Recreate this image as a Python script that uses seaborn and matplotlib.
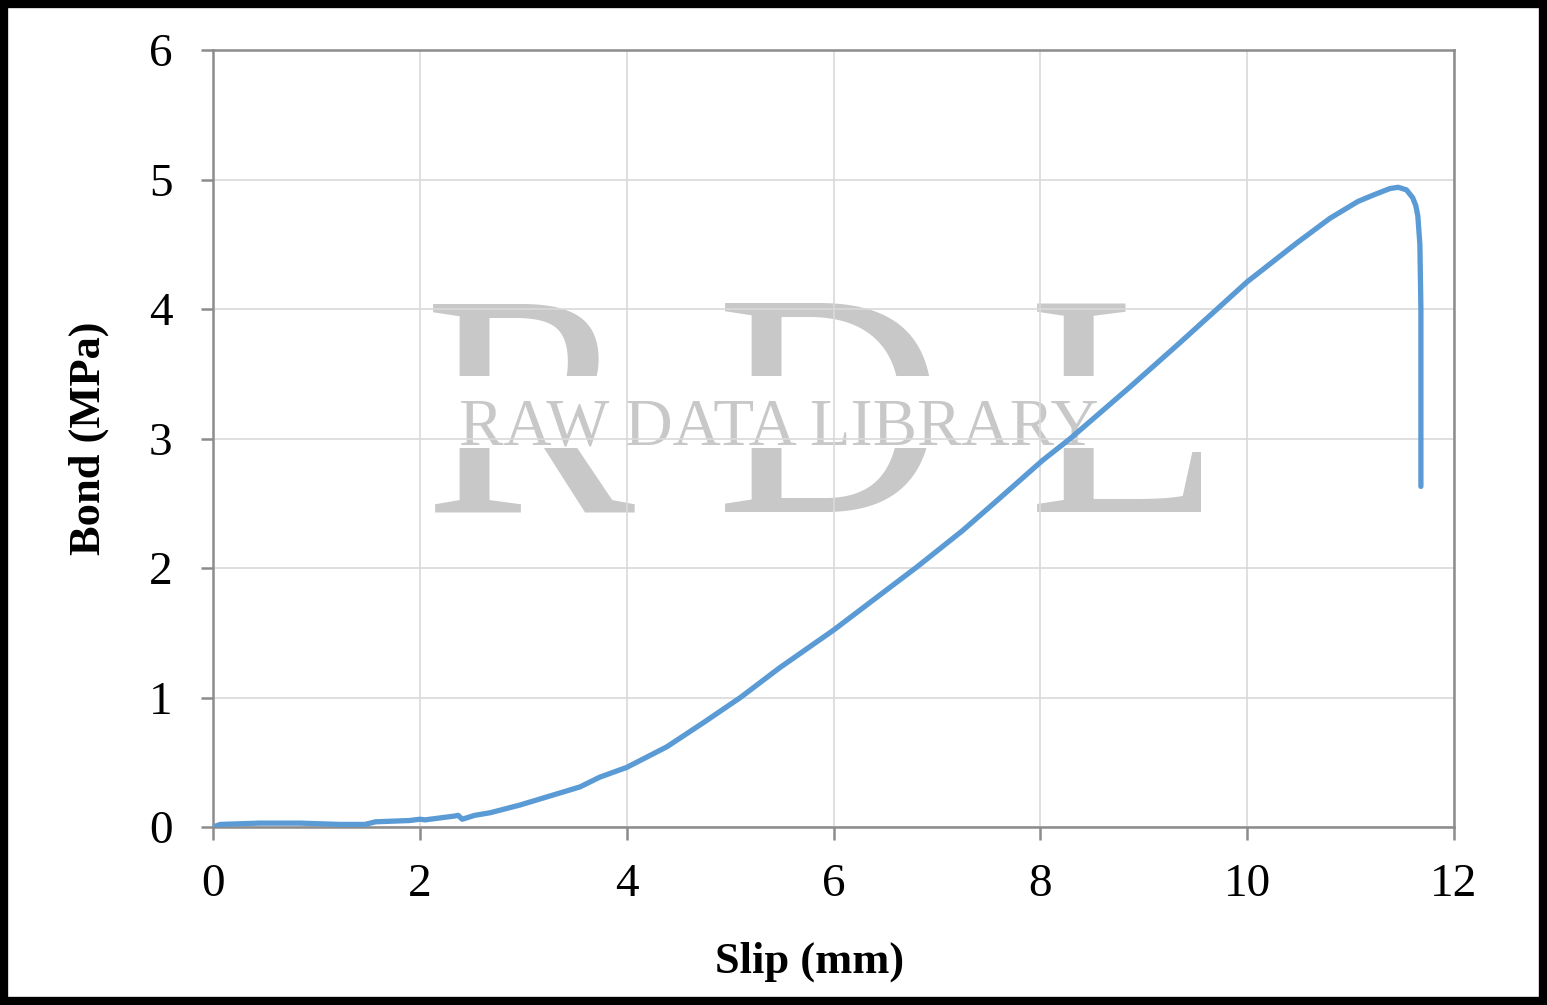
import numpy as np
import pandas as pd
import matplotlib.pyplot as plt
import seaborn as sns
from matplotlib.patches import Rectangle

# Bond-slip curve
slip = [0.0, 0.07, 0.45, 0.84, 1.23, 1.47, 1.57, 1.90, 2.00, 2.05, 2.34, 2.37, 2.41,
        2.53, 2.68, 2.97, 3.55, 3.74, 4.00, 4.39, 4.75, 5.10, 5.48, 6.00, 6.38,
        6.81, 7.25, 7.58, 8.02, 8.29, 8.87, 9.35, 9.71, 10.00, 10.48, 10.80,
        11.07, 11.22, 11.38, 11.46, 11.54, 11.60, 11.63, 11.65, 11.67, 11.68,
        11.68, 11.68]
bond = [0.0, 0.02, 0.03, 0.03, 0.02, 0.02, 0.04, 0.05, 0.06, 0.055, 0.085, 0.09, 0.06,
        0.09, 0.11, 0.17, 0.31, 0.385, 0.46, 0.62, 0.81, 1.00, 1.23, 1.52, 1.75,
        2.01, 2.29, 2.52, 2.83, 3.00, 3.40, 3.74, 4.00, 4.21, 4.51, 4.70,
        4.83, 4.88, 4.93, 4.94, 4.92, 4.86, 4.80, 4.72, 4.50, 4.00,
        3.30, 2.63]

x_ticks = [0, 2, 4, 6, 8, 10, 12]
y_ticks = [0, 1, 2, 3, 4, 5, 6]

df = pd.DataFrame({"Slip (mm)": slip, "Bond (MPa)": bond})

sns.set_style("white")
plt.rcParams['font.family'] = ['Liberation Serif', 'DejaVu Serif']

W, H = 1547, 1005
fig = plt.figure(figsize=(W / 100, H / 100), dpi=100)
ax = fig.add_axes([213 / W, 1 - 827 / H, (1454 - 213) / W, (827 - 50) / H])

# watermark (below the grid)
wm = '#c8c8c8'
for letter, px in [("R", 424), ("D", 716), ("L", 1028)]:
    ax.text(px / W, 1 - 512 / H, letter, transform=fig.transFigure, fontsize=228,
            color=wm, ha='left', va='baseline', zorder=0.1, clip_on=False)
ax.add_patch(Rectangle((425 / W, 1 - 448 / H), (1220 - 425) / W, 72 / H,
                       transform=fig.transFigure, facecolor='white', edgecolor='none',
                       zorder=0.2, clip_on=False))
ax.text(459 / W, 1 - 444 / H, "RAW DATA LIBRARY", transform=fig.transFigure,
        fontsize=48, color=wm, ha='left', va='baseline', zorder=0.3, clip_on=False)

sns.lineplot(data=df, x="Slip (mm)", y="Bond (MPa)", sort=False, estimator=None,
             color='#5b9bd5', linewidth=3.8, ax=ax, zorder=3,
             solid_joinstyle='round', solid_capstyle='round')

ax.set_xlim(0, 12)
ax.set_ylim(0, 6)
ax.set_xticks(x_ticks)
ax.set_yticks(y_ticks)
ax.grid(True, color='#d9d9d9', linewidth=1.2)
ax.set_axisbelow(True)
for side in ['left', 'bottom', 'top', 'right']:
    ax.spines[side].set_color('#8c8c8c')
    ax.spines[side].set_linewidth(1.8)
ax.tick_params(axis='both', direction='out', length=9, width=1.8, color='#8c8c8c',
               labelsize=34, labelcolor='black', bottom=True, left=True)
ax.tick_params(axis='x', pad=17)
ax.tick_params(axis='y', pad=20)

ax.set_xlabel("Slip (mm)", fontsize=32, fontweight='bold', color='black', labelpad=27)
ax.set_ylabel("Bond (MPa)", fontsize=32, fontweight='bold', color='black', labelpad=29)
ax.xaxis.set_label_coords(0.481, -0.148)

# black frame around the whole figure
fig.patches.append(Rectangle((0.0025, 0.004), 0.995, 0.992, transform=fig.transFigure,
                             fill=False, edgecolor='black', linewidth=6))

fig.savefig("out.png", dpi=100)
